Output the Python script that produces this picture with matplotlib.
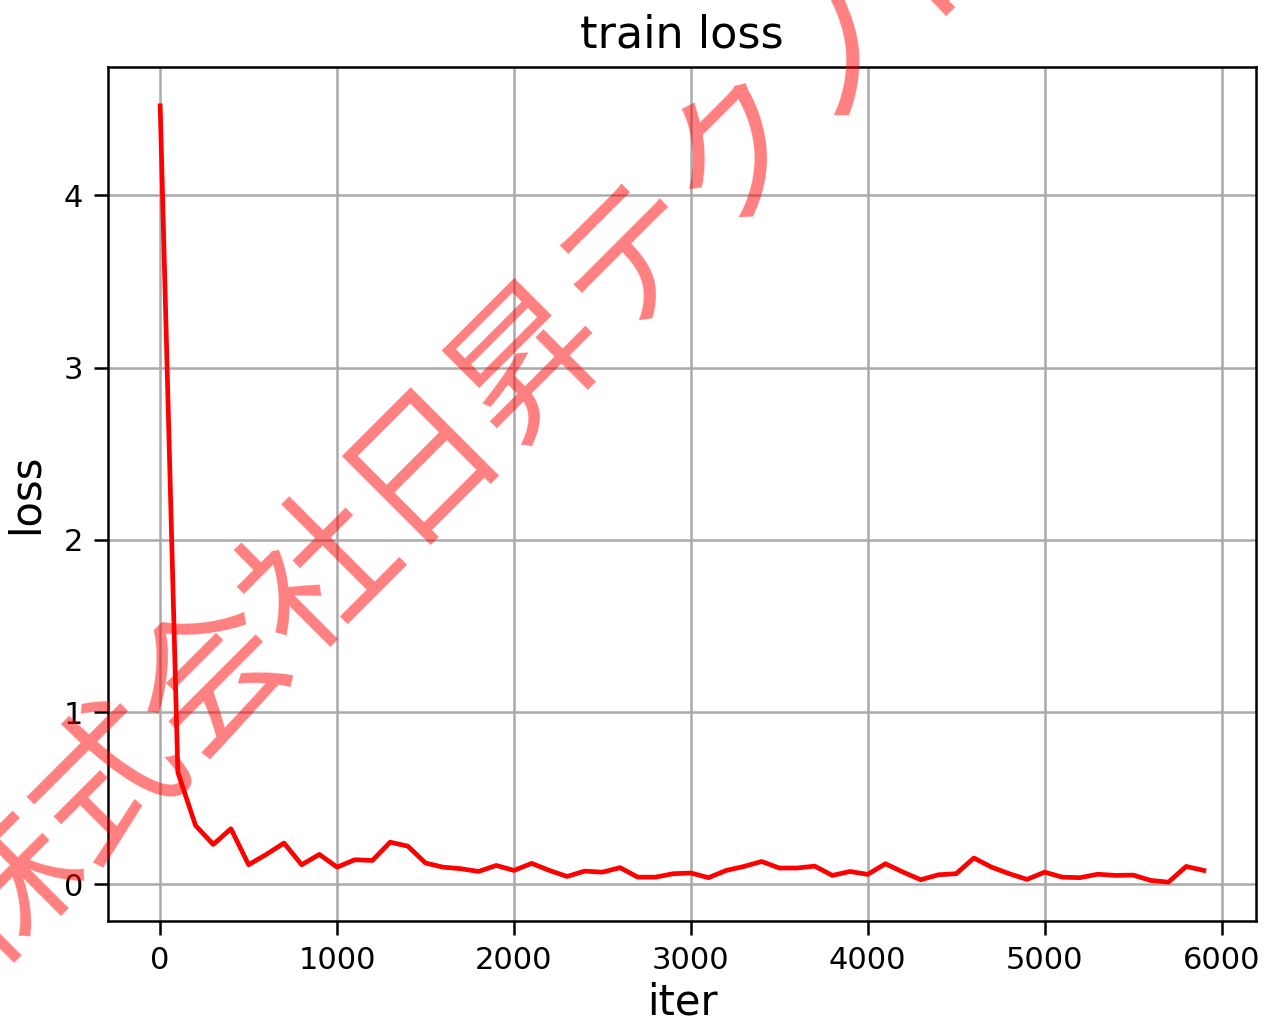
import numpy as np
import matplotlib
matplotlib.use("Agg")
import matplotlib.pyplot as plt

# loss recorded every 100 iterations
iters = list(range(0, 6000, 100))
loss = [4.52, 0.65, 0.342, 0.232, 0.323, 0.114, 0.174, 0.24, 0.114, 0.174,
        0.10, 0.143, 0.139, 0.245, 0.222, 0.124, 0.10, 0.091, 0.075, 0.110,
        0.081, 0.122, 0.081, 0.046, 0.077, 0.071, 0.097, 0.042, 0.042, 0.062,
        0.066, 0.039, 0.081, 0.104, 0.133, 0.095, 0.095, 0.106, 0.052, 0.075,
        0.058, 0.120, 0.071, 0.027, 0.056, 0.062, 0.153, 0.100, 0.062, 0.029,
        0.071, 0.042, 0.039, 0.059, 0.052, 0.054, 0.023, 0.013, 0.104, 0.081]

watermark = "株式会社日昇テクノロジー"

fig = plt.figure(figsize=(12.78, 10.25), dpi=100)
ax = fig.add_axes([0.0845, 0.1015, 0.8983, 0.8331])

ax.plot(iters, loss, color="red", linewidth=3.4)
ax.grid(True, color="#aaaaaa", linewidth=1.8)
ax.set_title("train loss", fontsize=32, pad=14)
ax.set_xlabel("iter", fontsize=30, labelpad=5)
ax.set_ylabel("loss", fontsize=30, labelpad=12)
ax.tick_params(labelsize=22, length=10, width=1.8, pad=8)
for s in ax.spines.values():
    s.set_linewidth(1.8)

# watermark over the whole figure
fig.text(0.457, 0.6956, watermark, fontsize=107, rotation=45,
         rotation_mode="anchor", ha="center", va="center",
         color="red", alpha=0.5, zorder=10,
         family=["Noto Sans CJK JP", "DejaVu Sans"])

plt.savefig("out.png", dpi=100)
